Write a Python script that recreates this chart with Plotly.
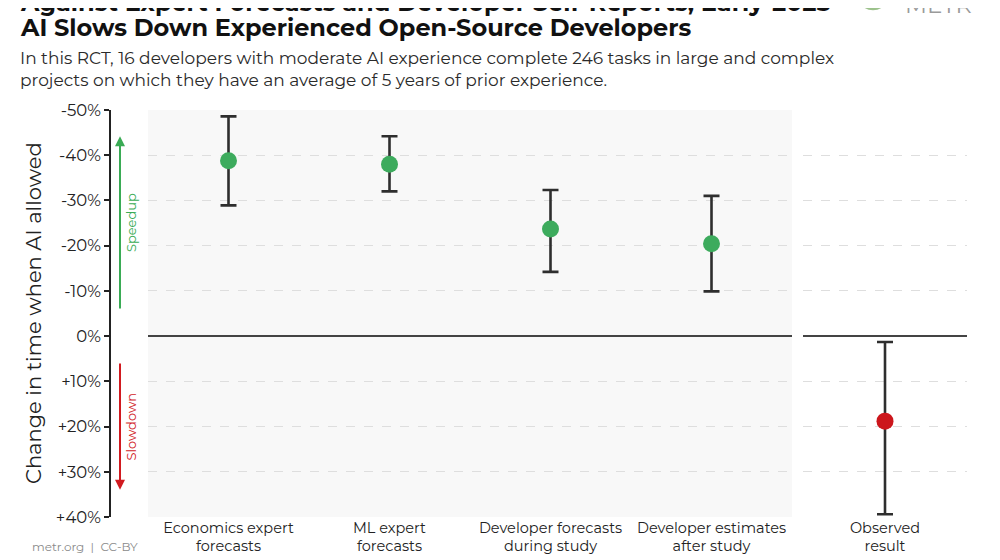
import plotly.graph_objects as go

# ---------------- data ----------------
forecast_labels = ["Economics expert<br>forecasts", "ML expert<br>forecasts",
                   "Developer forecasts<br>during study", "Developer estimates<br>after study"]
forecast_point = [-38.8, -38.0, -23.7, -20.4]
forecast_ci_low = [-48.6, -44.2, -32.3, -31.0]   # speedup end (top)
forecast_ci_high = [-28.9, -32.0, -14.2, -9.9]   # slowdown end

observed_labels = ["Observed<br>result"]
observed_point = [18.8]
observed_ci_low = [1.3]
observed_ci_high = [39.4]

y_tickvals = [-50, -40, -30, -20, -10, 0, 10, 20, 30, 40]
y_ticktext = ["-50%", "-40%", "-30%", "-20%", "-10%", "0%", "+10%", "+20%", "+30%", "+40%"]

title_lines = ["Against Expert Forecasts and Developer Self-Reports, Early-2025",
               "AI Slows Down Experienced Open-Source Developers"]

FONT = "Montserrat, Open Sans, sans-serif"
GREEN = "#3dab5d"
RED = "#cc161c"
ERR = "#2e2e2e"

W, H, OFF = 1000, 560, 8   # page body margin shifts the figure by 8 px


def fx(p):
    return (p - OFF) / W


def fy(p):
    return 1 - (p - OFF) / H


fig = go.Figure()

fig.add_trace(go.Scatter(
    x=forecast_labels, y=forecast_point, mode="markers",
    marker=dict(size=17, color=GREEN),
    error_y=dict(type="data", symmetric=False,
                 array=[h - p for h, p in zip(forecast_ci_high, forecast_point)],
                 arrayminus=[p - l for l, p in zip(forecast_ci_low, forecast_point)],
                 color=ERR, thickness=2.6, width=8),
    xaxis="x", yaxis="y", showlegend=False, hoverinfo="skip"))

fig.add_trace(go.Scatter(
    x=observed_labels, y=observed_point, mode="markers",
    marker=dict(size=17, color=RED),
    error_y=dict(type="data", symmetric=False,
                 array=[h - p for h, p in zip(observed_ci_high, observed_point)],
                 arrayminus=[p - l for l, p in zip(observed_ci_low, observed_point)],
                 color=ERR, thickness=2.6, width=8),
    xaxis="x2", yaxis="y2", showlegend=False, hoverinfo="skip"))

ydom = [fy(517), fy(110)]
common_y = dict(range=[40, -50], domain=ydom, tickvals=y_tickvals, automargin=False,
                showgrid=True, gridcolor="#dedede", griddash="dash", gridwidth=1,
                zeroline=True, zerolinecolor="#444444", zerolinewidth=1.6)
common_x = dict(type="category", automargin=False, showgrid=False, zeroline=False,
                showline=False, ticks="", tickfont=dict(size=14.5, color="#222222"))

fig.update_layout(
    width=W, height=H,
    margin=dict(l=0, r=0, t=0, b=0, autoexpand=False),
    paper_bgcolor="white", plot_bgcolor="white",
    font=dict(family=FONT, color="#222222"),
    xaxis=dict(**common_x, domain=[fx(148), fx(792)], range=[-0.5, 3.5]),
    xaxis2=dict(**common_x, domain=[fx(803), fx(967)], range=[-0.5, 0.5]),
    yaxis=dict(**common_y, ticktext=y_ticktext, anchor="free", position=fx(110),
               showline=True, linecolor="#222222", linewidth=1.6,
               ticks="outside", ticklen=5, tickwidth=1.6, tickcolor="#222222",
               tickfont=dict(size=16.5, color="#222222")),
    yaxis2=dict(**common_y, anchor="x2", matches="y", showticklabels=False,
                showline=False, ticks=""),
)

# panel background for the forecasts panel
fig.add_shape(type="rect", xref="x domain", yref="y domain", x0=0, x1=1, y0=0, y1=1,
              fillcolor="#f8f8f8", line=dict(width=0), layer="below")

# title (first line partly cut off at the top edge, as in the reference)
for line, bottom in zip(title_lines, [19, 44]):
    fig.add_annotation(text="<b>" + line + "</b>",
                       xref="paper", yref="paper", x=fx(18), y=fy(bottom),
                       xanchor="left", yanchor="bottom", align="left", showarrow=False,
                       font=dict(size=24, color="#111111"))

# subtitle
fig.add_annotation(text="In this RCT, 16 developers with moderate AI experience complete 246 tasks in large and complex<br>"
                        "projects on which they have an average of 5 years of prior experience.",
                   xref="paper", yref="paper", x=fx(18), y=fy(69),
                   xanchor="left", yanchor="middle", align="left", showarrow=False,
                   font=dict(size=17, color="#2a2a2a"))

# y-axis title
fig.add_annotation(text="Change in time when AI allowed", textangle=-90,
                   xref="paper", yref="paper", x=fx(33), y=fy(313),
                   xanchor="center", yanchor="middle", showarrow=False,
                   font=dict(size=21, color="#222222"))

# speedup / slowdown arrows
ax_arrow = (120 - 148) / 644
ax_text = (131 - 148) / 644
fig.add_annotation(xref="x domain", yref="y", axref="x domain", ayref="y",
                   x=ax_arrow, y=-44.2, ax=ax_arrow, ay=-5.8, text="", showarrow=True,
                   arrowhead=2, arrowsize=1, arrowwidth=2, arrowcolor="#3aab55")
fig.add_annotation(xref="x domain", yref="y", text="Speedup", textangle=-90,
                   x=ax_text, y=-25, xanchor="center", yanchor="middle", showarrow=False,
                   font=dict(size=13, color="#3aab55"))
fig.add_annotation(xref="x domain", yref="y", axref="x domain", ayref="y",
                   x=ax_arrow, y=34.0, ax=ax_arrow, ay=5.7, text="", showarrow=True,
                   arrowhead=2, arrowsize=1, arrowwidth=2, arrowcolor="#d11a1f")
fig.add_annotation(xref="x domain", yref="y", text="Slowdown", textangle=-90,
                   x=ax_text, y=20, xanchor="center", yanchor="middle", showarrow=False,
                   font=dict(size=13, color="#d11a1f"))

# footer
fig.add_annotation(text="metr.org  |  CC-BY", xref="paper", yref="paper",
                   x=fx(30), y=fy(546), xanchor="left", yanchor="middle",
                   showarrow=False, font=dict(size=12, color="#8a8a8a"))

# METR logo mark + wordmark (top right, partly cut off as in the reference)
fig.add_shape(type="circle", xref="paper", yref="paper",
              x0=fx(858), x1=fx(888), y0=fy(9), y1=fy(-21),
              fillcolor="#efe9c4", line=dict(color="#9cc28c", width=2.5))
fig.add_annotation(text="METR", xref="paper", yref="paper",
                   x=fx(903), y=fy(21), xanchor="left", yanchor="bottom",
                   showarrow=False, font=dict(size=23, color="#9a9a9a"))

fig.write_html("out.html")
